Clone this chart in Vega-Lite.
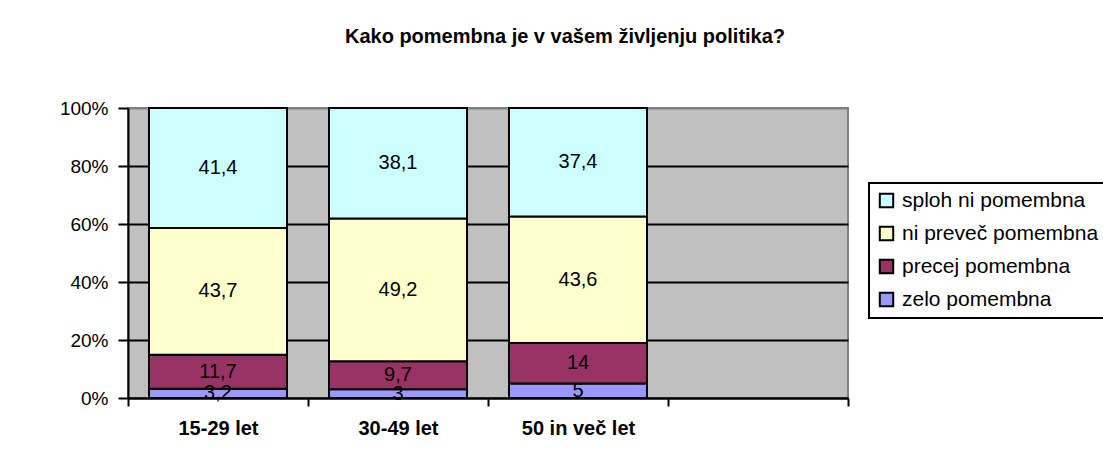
{
  "$schema": "https://vega.github.io/schema/vega-lite/v6.json",
  "width": 720,
  "height": 290,
  "autosize": {"type": "none"},
  "padding": {"left": 128, "top": 108, "right": 255, "bottom": 63},
  "background": "white",
  "title": {
    "text": "Kako pomembna je v vašem življenju politika?",
    "font": "Liberation Sans",
    "fontSize": 20,
    "fontWeight": "bold",
    "color": "black",
    "anchor": "middle",
    "frame": "group",
    "dx": 77,
    "offset": 52
  },
  "config": {
    "locale": {"number": {"decimal": ",", "thousands": ".", "grouping": [3], "currency": ["", " €"]}},
    "view": {"fill": "#C0C0C0", "stroke": "#808080", "strokeWidth": 2},
    "font": "Liberation Sans",
    "legend": {"strokeColor": "black", "strokeWidth": 2}
  },
  "data": {
    "values": [
      {"age": "15-29 let", "answer": "zelo pomembna", "order": 1, "v": 3.2},
      {"age": "15-29 let", "answer": "precej pomembna", "order": 2, "v": 11.7},
      {"age": "15-29 let", "answer": "ni preveč pomembna", "order": 3, "v": 43.7},
      {"age": "15-29 let", "answer": "sploh ni pomembna", "order": 4, "v": 41.4},
      {"age": "30-49 let", "answer": "zelo pomembna", "order": 1, "v": 3},
      {"age": "30-49 let", "answer": "precej pomembna", "order": 2, "v": 9.7},
      {"age": "30-49 let", "answer": "ni preveč pomembna", "order": 3, "v": 49.2},
      {"age": "30-49 let", "answer": "sploh ni pomembna", "order": 4, "v": 38.1},
      {"age": "50 in več let", "answer": "zelo pomembna", "order": 1, "v": 5},
      {"age": "50 in več let", "answer": "precej pomembna", "order": 2, "v": 14},
      {"age": "50 in več let", "answer": "ni preveč pomembna", "order": 3, "v": 43.6},
      {"age": "50 in več let", "answer": "sploh ni pomembna", "order": 4, "v": 37.4}
    ]
  },
  "encoding": {
    "x": {
      "field": "age",
      "type": "nominal",
      "sort": null,
      "scale": {"domain": ["15-29 let", "30-49 let", "50 in več let", " "], "paddingInner": 0, "paddingOuter": 0},
      "axis": {
        "title": null,
        "labelAngle": 0,
        "labelFont": "Liberation Sans",
        "labelFontSize": 20,
        "labelFontWeight": "bold",
        "labelColor": "black",
        "labelPadding": 12,
        "tickBand": "extent",
        "tickSize": 8,
        "tickWidth": 2,
        "tickColor": "black",
        "domainColor": "black",
        "domainWidth": 2,
        "grid": false
      }
    }
  },
  "layer": [
    {
      "mark": {"type": "bar", "stroke": "black", "strokeWidth": 2, "width": {"band": 0.7667}},
      "encoding": {
        "y": {
          "field": "v",
          "type": "quantitative",
          "stack": "normalize",
          "scale": {"domain": [0, 1]},
          "axis": {
            "title": null,
            "format": ".0%",
            "values": [0, 0.2, 0.4, 0.6, 0.8, 1],
            "labelFont": "Liberation Sans",
            "labelFontSize": 19,
            "labelColor": "black",
            "labelPadding": 10,
            "tickSize": 10,
            "tickWidth": 2,
            "tickColor": "black",
            "domainColor": "black",
            "domainWidth": 2,
            "grid": true,
            "gridColor": {"condition": {"test": "datum.value >= 1", "value": "#808080"}, "value": "black"},
            "gridWidth": 2,
            "gridOpacity": 1
          }
        },
        "color": {
          "field": "answer",
          "type": "nominal",
          "scale": {
            "domain": ["sploh ni pomembna", "ni preveč pomembna", "precej pomembna", "zelo pomembna"],
            "range": ["#CCFFFF", "#FFFFCC", "#993366", "#9999FF"]
          },
          "legend": {
            "title": null,
            "orient": "none",
            "legendX": 741,
            "legendY": 75,
            "labelFont": "Liberation Sans",
            "labelFontSize": 21,
            "labelLimit": 400,
            "labelColor": "black",
            "symbolType": "square",
            "symbolSize": 180,
            "symbolStrokeColor": "black",
            "symbolStrokeWidth": 2,
            "symbolOpacity": 1,
            "rowPadding": 10,
            "labelOffset": 5,
            "padding": 7,
            "fillColor": "white"
          }
        },
        "order": {"field": "order", "type": "quantitative"}
      }
    },
    {
      "mark": {"type": "text", "font": "Liberation Sans", "fontSize": 20, "color": "black", "baseline": "middle"},
      "encoding": {
        "y": {"field": "v", "type": "quantitative", "stack": "normalize", "bandPosition": 0.5},
        "detail": {"field": "answer", "type": "nominal"},
        "order": {"field": "order", "type": "quantitative"},
        "text": {"field": "v", "type": "quantitative", "format": "~g"}
      }
    }
  ]
}
